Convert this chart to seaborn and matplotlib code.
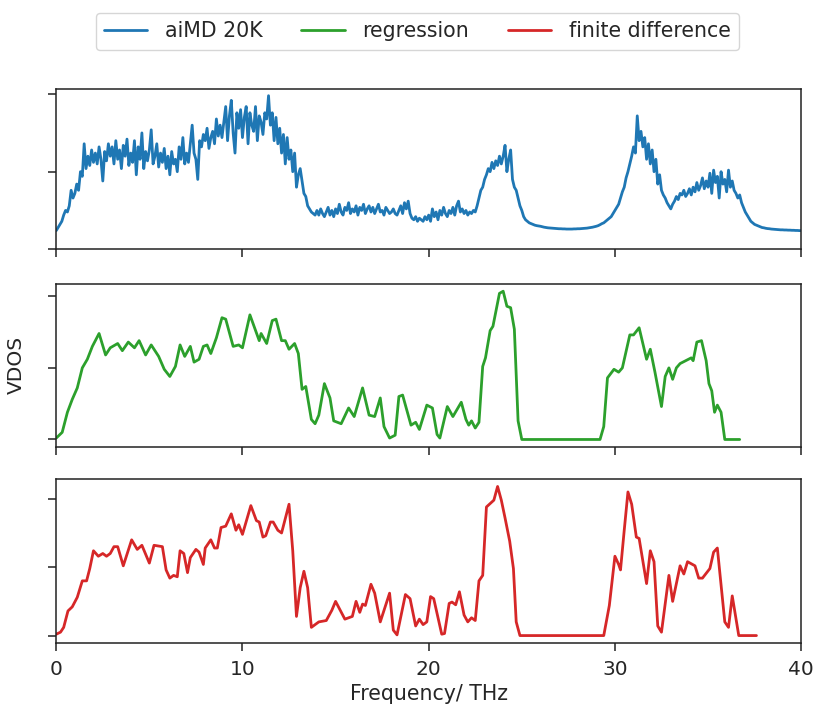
import numpy as np
import pandas as pd
import matplotlib
matplotlib.use("Agg")
import matplotlib.pyplot as plt
import seaborn as sns

# ---------------- data ----------------
# aiMD 20K : sampled every 0.1 THz from 0 to 40
aimd_freq = [round(0.1 * i, 1) for i in range(401)]
aimd_vdos = [
    0.12, 0.14, 0.16, 0.18, 0.22, 0.25, 0.24, 0.28, 0.38, 0.33,
    0.36, 0.42, 0.38, 0.50, 0.47, 0.68, 0.52, 0.60, 0.54, 0.64,
    0.56, 0.62, 0.55, 0.66, 0.58, 0.44, 0.63, 0.57, 0.68, 0.60,
    0.66, 0.55, 0.70, 0.58, 0.64, 0.52, 0.67, 0.60, 0.71, 0.54,
    0.62, 0.56, 0.70, 0.48, 0.66, 0.58, 0.75, 0.52, 0.63, 0.57,
    0.64, 0.77, 0.55, 0.60, 0.68, 0.53, 0.62, 0.56, 0.65, 0.52,
    0.60, 0.48, 0.63, 0.55, 0.58, 0.50, 0.66, 0.58, 0.72, 0.55,
    0.62, 0.56, 0.68, 0.80, 0.62, 0.58, 0.45, 0.70, 0.66, 0.74,
    0.70, 0.78, 0.65, 0.72, 0.76, 0.68, 0.84, 0.73, 0.80, 0.72,
    0.82, 0.92, 0.70, 0.86, 0.96, 0.75, 0.62, 0.88, 0.78, 0.90,
    0.72, 0.85, 0.92, 0.68, 0.88, 0.80, 0.76, 0.92, 0.70, 0.86,
    0.82, 0.74, 0.88, 0.84, 0.99, 0.80, 0.88, 0.70, 0.85, 0.68,
    0.78, 0.62, 0.74, 0.55, 0.72, 0.58, 0.64, 0.50, 0.62, 0.40,
    0.48, 0.52, 0.44, 0.36, 0.34, 0.28, 0.26, 0.24, 0.23, 0.22,
    0.25, 0.22, 0.26, 0.23, 0.21, 0.24, 0.27, 0.22, 0.25, 0.21,
    0.26, 0.23, 0.29, 0.24, 0.22, 0.27, 0.25, 0.30, 0.23, 0.26,
    0.24, 0.28, 0.22, 0.27, 0.25, 0.29, 0.23, 0.26, 0.28, 0.24,
    0.27, 0.23, 0.26, 0.29, 0.24, 0.25, 0.22, 0.27, 0.25, 0.23,
    0.24, 0.26, 0.23, 0.22, 0.25, 0.28, 0.23, 0.30, 0.26, 0.31,
    0.23, 0.20, 0.19, 0.21, 0.18, 0.20, 0.19, 0.18, 0.21, 0.19,
    0.22, 0.18, 0.26, 0.21, 0.24, 0.19, 0.25, 0.22, 0.27, 0.23,
    0.21, 0.25, 0.23, 0.27, 0.22, 0.28, 0.31, 0.24, 0.26, 0.23,
    0.25, 0.22, 0.24, 0.23, 0.25, 0.24, 0.28, 0.33, 0.38, 0.40,
    0.45, 0.48, 0.52, 0.50, 0.56, 0.52, 0.57, 0.54, 0.60, 0.55,
    0.60, 0.67, 0.50, 0.58, 0.64, 0.45, 0.40, 0.38, 0.33, 0.28,
    0.25, 0.21, 0.19, 0.18, 0.17, 0.165, 0.16, 0.155, 0.152, 0.15,
    0.148, 0.145, 0.142, 0.14, 0.138, 0.137, 0.136, 0.135, 0.134, 0.133,
    0.132, 0.132, 0.131, 0.131, 0.13, 0.13, 0.13, 0.13, 0.131, 0.131,
    0.132, 0.132, 0.133, 0.134, 0.135, 0.136, 0.138, 0.14, 0.142, 0.145,
    0.148, 0.152, 0.158, 0.165, 0.17, 0.18, 0.19, 0.20, 0.21, 0.23,
    0.25, 0.27, 0.29, 0.33, 0.37, 0.40, 0.46, 0.50, 0.55, 0.60,
    0.66, 0.62, 0.86, 0.70, 0.76, 0.66, 0.72, 0.58, 0.68, 0.55,
    0.64, 0.50, 0.58, 0.42, 0.48, 0.38, 0.35, 0.33, 0.30, 0.28,
    0.26, 0.29, 0.31, 0.34, 0.32, 0.36, 0.35, 0.38, 0.34, 0.36,
    0.39, 0.35, 0.40, 0.37, 0.43, 0.38, 0.41, 0.46, 0.39, 0.44,
    0.40, 0.49, 0.36, 0.51, 0.43, 0.47, 0.33, 0.50, 0.42, 0.45,
    0.37, 0.51, 0.40, 0.44, 0.38, 0.36, 0.33, 0.35, 0.30, 0.27,
    0.24, 0.22, 0.20, 0.18, 0.17, 0.16, 0.155, 0.15, 0.145, 0.14,
    0.138, 0.135, 0.133, 0.132, 0.13, 0.129, 0.128, 0.127, 0.126, 0.125,
    0.125, 0.124, 0.124, 0.123, 0.123, 0.122, 0.122, 0.121, 0.121, 0.12,
    0.12,
]

reg_freq = [
    0.0, 0.32, 0.6, 0.86, 1.13, 1.4, 1.67, 1.94, 2.3, 2.65, 2.9, 3.3, 3.55,
    3.87, 4.2, 4.45, 4.8, 5.1, 5.5, 5.8, 6.1, 6.4, 6.65, 6.9, 7.2, 7.4, 7.67,
    7.9, 8.1, 8.3, 8.6, 8.9, 9.1, 9.5, 9.8, 10.0, 10.4, 10.9, 11.0, 11.3,
    11.6, 11.8, 12.1, 12.3, 12.5, 12.8, 13.0, 13.2, 13.4, 13.7, 13.9, 14.1,
    14.4, 14.7, 14.9, 15.3, 15.7, 16.0, 16.45, 16.8, 17.1, 17.4, 17.6, 17.9,
    18.2, 18.4, 18.6, 19.05, 19.3, 19.5, 19.9, 20.2, 20.45, 20.6, 21.0, 21.3,
    21.75, 22.0, 22.15, 22.3, 22.5, 22.7, 22.9, 23.05, 23.3, 23.45, 23.8,
    24.0, 24.2, 24.4, 24.6, 24.8, 25.0, 29.2, 29.4, 29.6, 29.95, 30.2, 30.4,
    30.8, 31.0, 31.3, 31.7, 31.9, 32.15, 32.5, 32.7, 32.9, 33.1, 33.3, 33.5,
    33.8, 34.1, 34.2, 34.4, 34.65, 34.9, 35.05, 35.2, 35.35, 35.5, 35.7,
    35.9, 36.7,
]
reg_vdos = [
    0.01, 0.05, 0.19, 0.28, 0.36, 0.50, 0.56, 0.65, 0.74, 0.59, 0.64, 0.67,
    0.62, 0.68, 0.64, 0.69, 0.59, 0.66, 0.58, 0.49, 0.44, 0.51, 0.66, 0.58,
    0.65, 0.54, 0.56, 0.65, 0.66, 0.60, 0.71, 0.85, 0.84, 0.65, 0.66, 0.64,
    0.87, 0.69, 0.74, 0.67, 0.83, 0.84, 0.69, 0.69, 0.63, 0.67, 0.60, 0.35,
    0.37, 0.14, 0.11, 0.17, 0.39, 0.29, 0.13, 0.11, 0.22, 0.16, 0.36, 0.17,
    0.16, 0.29, 0.09, 0.01, 0.03, 0.30, 0.31, 0.10, 0.12, 0.07, 0.24, 0.22,
    0.035, 0.01, 0.23, 0.16, 0.26, 0.14, 0.10, 0.13, 0.08, 0.12, 0.51, 0.57,
    0.76, 0.79, 1.02, 1.035, 0.93, 0.92, 0.77, 0.13, 0.0, 0.0, 0.09, 0.43,
    0.49, 0.47, 0.50, 0.73, 0.73, 0.78, 0.56, 0.63, 0.47, 0.23, 0.44, 0.50,
    0.42, 0.50, 0.53, 0.55, 0.57, 0.55, 0.68, 0.69, 0.55, 0.39, 0.34, 0.19,
    0.24, 0.19, 0.0, 0.0,
]

fd_freq = [
    0.0, 0.23, 0.4, 0.63, 0.86, 1.13, 1.4, 1.63, 1.8, 2.0, 2.26, 2.5, 2.7,
    2.9, 3.1, 3.3, 3.6, 4.05, 4.35, 4.6, 5.0, 5.25, 5.7, 5.9, 6.1, 6.3, 6.5,
    6.65, 6.85, 7.05, 7.2, 7.5, 7.67, 7.9, 8.0, 8.3, 8.5, 8.65, 8.85, 9.1,
    9.4, 9.65, 9.8, 10.0, 10.45, 10.75, 10.9, 11.1, 11.25, 11.5, 11.65, 11.9,
    12.1, 12.5, 12.7, 12.9, 13.1, 13.3, 13.5, 13.7, 14.1, 14.5, 14.8, 15.0,
    15.5, 15.9, 16.1, 16.3, 16.45, 16.6, 16.9, 17.1, 17.4, 17.9, 18.1, 18.3,
    18.75, 19.0, 19.3, 19.5, 19.7, 19.9, 20.1, 20.27, 20.7, 20.85, 21.1,
    21.25, 21.45, 21.65, 21.9, 22.1, 22.3, 22.5, 22.7, 22.9, 23.1, 23.5,
    23.7, 23.9, 24.1, 24.35, 24.55, 24.7, 24.9, 29.4, 29.7, 30.0, 30.2, 30.3,
    30.5, 30.7, 30.9, 31.15, 31.3, 31.7, 31.9, 32.1, 32.3, 32.5, 32.9, 33.1,
    33.5, 33.7, 33.9, 34.3, 34.5, 34.7, 35.1, 35.3, 35.5, 35.9, 36.1, 36.3,
    36.65, 37.6,
]
fd_vdos = [
    0.01, 0.025, 0.06, 0.18, 0.21, 0.28, 0.40, 0.40, 0.49, 0.62, 0.58, 0.60,
    0.58, 0.60, 0.65, 0.65, 0.51, 0.70, 0.63, 0.66, 0.53, 0.66, 0.65, 0.48,
    0.42, 0.44, 0.43, 0.62, 0.60, 0.46, 0.57, 0.63, 0.61, 0.52, 0.64, 0.70,
    0.64, 0.64, 0.79, 0.80, 0.89, 0.77, 0.81, 0.74, 0.95, 0.84, 0.83, 0.72,
    0.73, 0.83, 0.83, 0.77, 0.75, 0.96, 0.62, 0.14, 0.35, 0.47, 0.35, 0.06,
    0.10, 0.11, 0.185, 0.25, 0.12, 0.14, 0.25, 0.17, 0.23, 0.22, 0.375, 0.31,
    0.10, 0.31, 0.04, 0.005, 0.30, 0.27, 0.07, 0.12, 0.08, 0.10, 0.285, 0.27,
    0.01, 0.015, 0.235, 0.245, 0.225, 0.32, 0.15, 0.10, 0.13, 0.11, 0.40,
    0.44, 0.94, 0.99, 1.09, 0.99, 0.86, 0.69, 0.49, 0.10, 0.0, 0.0, 0.22,
    0.58, 0.52, 0.48, 0.77, 1.05, 0.96, 0.72, 0.71, 0.38, 0.62, 0.54, 0.07,
    0.025, 0.44, 0.25, 0.51, 0.45, 0.54, 0.51, 0.42, 0.42, 0.49, 0.61, 0.64,
    0.10, 0.06, 0.29, 0.0, 0.0,
]

series_labels = ["aiMD 20K", "regression", "finite difference"]
x_ticks = [0, 10, 20, 30, 40]
y_ticks = [0.0, 0.5, 1.0]

# ---------------- plot ----------------
sns.set_style("white")
plt.rcParams["font.family"] = ["DejaVu Sans"]
plt.rcParams["font.size"] = 14

fig = plt.figure(figsize=(8.15, 7.06), dpi=100)
left, width = 0.0690, 0.9140
ax1 = fig.add_axes([left, 0.647, width, 0.227])
ax2 = fig.add_axes([left, 0.367, width, 0.231], sharex=ax1)
ax3 = fig.add_axes([left, 0.0892, width, 0.2323], sharex=ax1)

colors = ["#1f77b4", "#2ca02c", "#d62728"]
datasets = [(aimd_freq, aimd_vdos), (reg_freq, reg_vdos), (fd_freq, fd_vdos)]
for ax, (fx, fy), c, lab in zip([ax1, ax2, ax3], datasets, colors, series_labels):
    df = pd.DataFrame({"freq": fx, "vdos": fy})
    sns.lineplot(data=df, x="freq", y="vdos", ax=ax, color=c, linewidth=2.0,
                 label=lab, sort=False, estimator=None, legend=False)
    ax.set_xlim(0, 40)
    ax.set_xticks(x_ticks)
    ax.set_yticks(y_ticks)
    ax.set_yticklabels([])
    ax.set_xlabel("")
    ax.set_ylabel("")
    for s in ax.spines.values():
        s.set_visible(True)
        s.set_color("#222222")
        s.set_linewidth(1.1)
    ax.tick_params(axis="both", which="major", direction="out", length=6,
                   width=1.1, color="#222222", left=True, bottom=True,
                   labelsize=14.5, pad=6)

ax1.tick_params(labelbottom=False)
ax2.tick_params(labelbottom=False)
ax3.set_xticklabels([str(t) for t in x_ticks])
ax2.set_ylabel("VDOS", fontsize=14.5, labelpad=10)
ax3.set_xlabel("Frequency/ THz", fontsize=14.8, labelpad=4)

handles = [ax.get_lines()[0] for ax in (ax1, ax2, ax3)]
fig.legend(handles, series_labels, loc="upper center", ncol=3,
           bbox_to_anchor=(0.512, 0.99), fontsize=14.8, frameon=True,
           edgecolor="#cccccc", handlelength=2.1, handletextpad=0.85,
           columnspacing=1.9, borderpad=0.4, borderaxespad=0.3)

fig.savefig("out.png", dpi=100)
